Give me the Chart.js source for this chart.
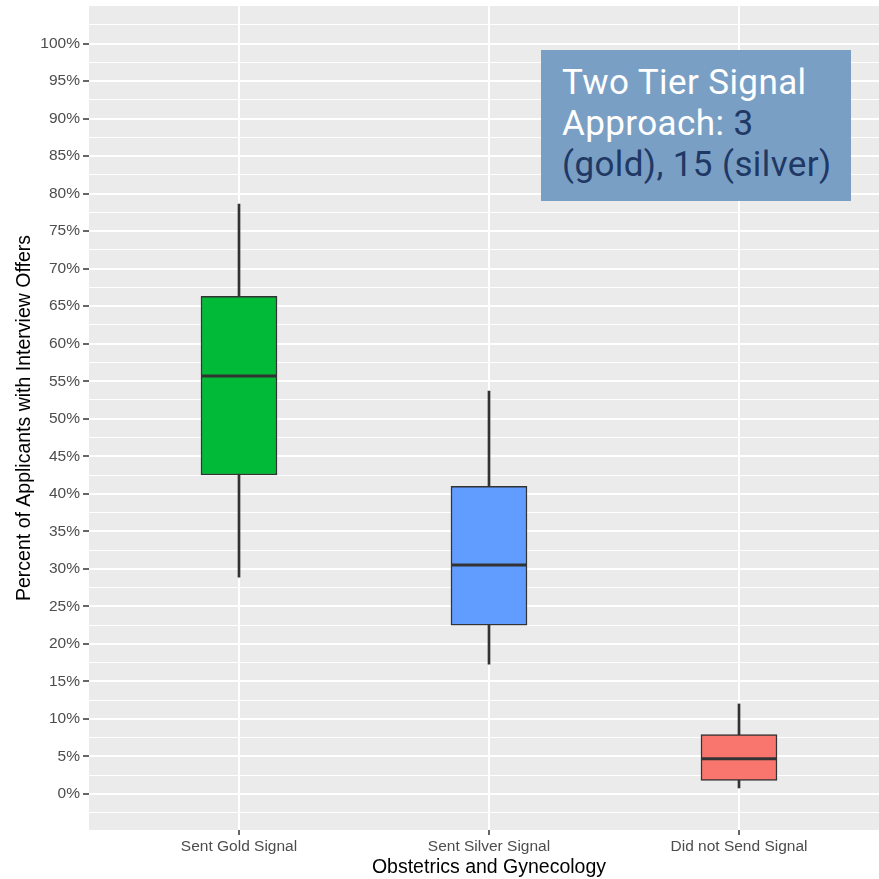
<!DOCTYPE html>
<html>
<head>
<meta charset="utf-8">
<script src="https://cdn.jsdelivr.net/npm/chart.js@4"></script>
<style>
  html, body { margin: 0; padding: 0; background: #fff; overflow: hidden; }
  #wrap { position: absolute; left: 0; top: 0; width: 900px; height: 879px; }
  #note {
    position: absolute; left: 541px; top: 50px; width: 310px; height: 151px;
    background: #7a9fc5; box-sizing: border-box; padding: 12px 0 0 21px;
    font-family: Roboto, "Noto Sans", sans-serif; font-size: 35px; line-height: 41px;
    color: #ffffff; white-space: nowrap; letter-spacing: 0.4px;
  }
  #note .dk { color: #1f3864; }
</style>
</head>
<body>
<div id="wrap"><canvas id="c"></canvas></div>
<div id="note">Two Tier Signal<br>Approach: <span class="dk">3<br>(gold), 15 (silver)</span></div>
<script>
const categories = ["Sent Gold Signal", "Sent Silver Signal", "Did not Send Signal"];
const whiskerLow = [28.9, 17.3, 0.8];
const q1 = [42.5, 22.5, 1.8];
const median = [55.7, 30.5, 4.7];
const q3 = [66.3, 41.0, 7.9];
const whiskerHigh = [78.6, 53.7, 12.0];
const fills = ["#00ba38", "#619cff", "#f8766d"];

const panelBg = {
  id: "panelBg",
  beforeDraw(chart) {
    const { ctx, chartArea: a } = chart;
    ctx.save();
    ctx.fillStyle = "#ebebeb";
    ctx.fillRect(a.left, a.top, a.right - a.left, a.bottom - a.top);
    ctx.restore();
  }
};

const medians = {
  id: "medians",
  afterDatasetsDraw(chart) {
    const { ctx } = chart;
    const y = chart.scales.y;
    const boxes = chart.getDatasetMeta(0).data;
    ctx.save();
    ctx.strokeStyle = "#333333";
    ctx.lineWidth = 3;
    boxes.forEach((el, i) => {
      const py = y.getPixelForValue(median[i]);
      ctx.beginPath();
      ctx.moveTo(el.x - el.width / 2, py);
      ctx.lineTo(el.x + el.width / 2, py);
      ctx.stroke();
    });
    ctx.restore();
  }
};

const isMajor = v => Math.abs(v / 5 - Math.round(v / 5)) < 1e-6;

new Chart(document.getElementById("c"), {
  type: "bar",
  data: {
    datasets: [
      {
        label: "box",
        data: categories.map((c, i) => ({ x: i, y: [q1[i], q3[i]] })),
        backgroundColor: fills,
        borderColor: "#333333",
        borderWidth: 1.5,
        borderSkipped: false,
        barThickness: 76,
        grouped: false,
        order: 0
      },
      {
        label: "whisker",
        data: categories.map((c, i) => ({ x: i, y: [whiskerLow[i], whiskerHigh[i]] })),
        backgroundColor: "#333333",
        borderWidth: 0,
        barThickness: 2,
        grouped: false,
        order: 1
      }
    ]
  },
  options: {
    responsive: true,
    maintainAspectRatio: false,
    animation: false,
    layout: { padding: { top: 6, right: 11, left: 0, bottom: 0 } },
    plugins: {
      legend: { display: false },
      tooltip: { enabled: false },
      title: { display: false }
    },
    scales: {
      x: {
        type: "linear",
        min: -0.6,
        max: 2.6,
        offset: false,
        afterBuildTicks: s => { s.ticks = categories.map((c, i) => ({ value: i })); },
        afterFit: s => { s.height = 49; s.paddingLeft = 0; s.paddingRight = 0; },
        border: { display: false },
        grid: { offset: false, color: "#ffffff", lineWidth: 2, tickLength: 5, tickColor: "#333333", tickWidth: 1.5 },
        ticks: {
          color: "#4d4d4d",
          font: { family: "Liberation Sans, Arial, sans-serif", size: 15.5 },
          padding: 2,
          maxRotation: 0,
          autoSkip: false,
          callback: v => categories[v]
        },
        title: {
          display: true,
          text: "Obstetrics and Gynecology",
          color: "#000000",
          font: { family: "Liberation Sans, Arial, sans-serif", size: 19.5 },
          padding: { top: 0, bottom: 0 }
        }
      },
      y: {
        min: -4.8,
        max: 105.0,
        afterBuildTicks: s => {
          const t = [];
          for (let v = -2.5; v <= 102.5 + 1e-9; v += 2.5) t.push({ value: Math.round(v * 10) / 10 });
          s.ticks = t;
        },
        afterFit: s => { s.width = 89; s.paddingTop = 0; s.paddingBottom = 0; },
        border: { display: false },
        grid: {
          color: "#ffffff",
          lineWidth: c => (isMajor(c.tick.value) ? 2 : 1),
          tickLength: 6,
          tickWidth: 1.5,
          tickColor: c => (isMajor(c.tick.value) && c.tick.value >= 0 && c.tick.value <= 100 ? "#333333" : "rgba(0,0,0,0)")
        },
        ticks: {
          color: "#4d4d4d",
          font: { family: "Liberation Sans, Arial, sans-serif", size: 15.5 },
          padding: 3,
          autoSkip: false,
          callback: v => (isMajor(v) && v >= 0 && v <= 100 ? v + "%" : "")
        },
        title: {
          display: true,
          text: "Percent of Applicants with Interview Offers",
          color: "#000000",
          font: { family: "Liberation Sans, Arial, sans-serif", size: 19.5 },
          padding: { top: 13, bottom: 0 }
        }
      }
    }
  },
  plugins: [panelBg, medians]
});
</script>
</body>
</html>
